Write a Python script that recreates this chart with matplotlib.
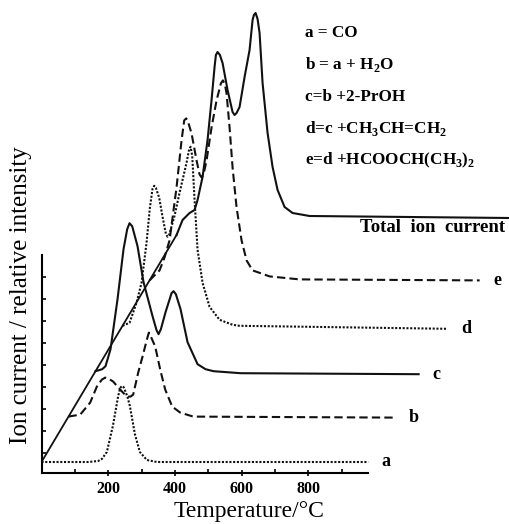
import numpy as np
import matplotlib.pyplot as plt

plt.rcParams['font.family'] = ['Liberation Serif', 'DejaVu Serif']
plt.rcParams['mathtext.fontset'] = 'custom'
plt.rcParams['mathtext.rm'] = 'Liberation Serif:bold'

# each trace: temperature (°C) and relative intensity, measured from its own start point
temp_a = [0, 140, 170, 181, 196, 214, 230, 236, 241, 246, 250, 258, 265, 280, 295, 316, 346, 980]
int_a = [0, 0, 1, 3, 10, 36, 66, 74, 76, 75, 72, 65, 56, 28, 10, 2, 0, 0]

temp_b = [0, 35, 65, 85, 100, 110, 120, 134, 155, 172, 179, 186, 194, 209, 222, 235, 241, 247,
          260, 275, 290, 311, 335, 374, 980]
int_b = [0, 2, 14, 30, 37, 39, 38, 35, 27, 21, 20, 20, 22, 44, 60, 77, 84, 80,
         70, 47, 27, 10, 4, 0, -1]

temp_c = [0, 20, 30, 45, 66, 84, 95, 102, 110, 126, 144, 171, 183, 189, 196, 210, 228, 234, 241,
          255, 276, 306, 330, 354, 435, 969]
int_c = [0, 2, 5, 22, 72, 122, 142, 148, 145, 125, 89, 55, 41, 37, 42, 59, 78, 80, 77,
         62, 29, 7, 2, 0, -2, -3]

temp_d = [0, 21, 42, 57, 72, 82, 90, 95, 100, 110, 120, 130, 135, 140, 156, 171, 192, 200, 204,
          209, 216, 225, 240, 261, 291, 330, 351, 975]
int_d = [0, 3, 23, 43, 83, 118, 137, 140, 138, 128, 109, 92, 89, 91, 110, 133, 163, 177, 179,
         170, 126, 76, 43, 19, 6, 1, 0, -3]

temp_e = [0, 30, 45, 60, 81, 96, 104, 110, 116, 126, 141, 150, 156, 162, 171, 186, 201, 214, 220,
          226, 231, 240, 249, 261, 276, 291, 309, 360, 450, 990]
int_e = [0, 10, 23, 40, 93, 140, 160, 162, 158, 147, 120, 106, 103, 106, 120, 153, 180, 197, 200,
         196, 187, 153, 113, 73, 40, 20, 10, 4, 1, 0]

temp_tot = [0, 18, 39, 54, 63, 78, 93, 105, 114, 118, 123, 130, 138, 153, 168, 174, 180, 189, 204,
            219, 228, 232, 237, 243, 249, 258, 273, 288, 303, 324, 348, 399, 999]
int_tot = [0, 15, 22, 25, 35, 58, 95, 135, 168, 180, 183, 180, 172, 145, 123, 120, 122, 128, 158,
           185, 215, 220, 222, 216, 202, 152, 102, 68, 45, 28, 22, 19, 17]

names = ['a', 'b', 'c', 'd', 'e', '']
legend_lines = ['a = CO', 'b = a + H$_2$O', 'c=b +2-PrOH',
                'd=c +CH$_3$CH=CH$_2$', 'e=d +HCOOCH(CH$_3$)$_2$']

traces = [(temp_a, int_a), (temp_b, int_b), (temp_c, int_c),
          (temp_d, int_d), (temp_e, int_e), (temp_tot, int_tot)]
styles = [(0, (1, 0.8)), (0, (4, 2)), '-', (0, (1, 0.8)), (0, (4, 2)), '-']

# each trace is shifted right and up from the previous one
shift_t = 81
shift_i = 45.4
base_i = 11

fig = plt.figure(figsize=(5.10, 5.24), dpi=100)
ax = fig.add_axes([41.5 / 510, 51 / 524, 1 - 41.5 / 510, 473 / 524])
ax.set_xlim(0, 1405)
ax.set_ylim(0, 473)

for i, ((t, y), ls) in enumerate(zip(traces, styles)):
    x = np.array(t) + i * shift_t
    yy = np.array(y) + base_i + i * shift_i
    ax.plot(x, yy, color='#111111', lw=1.5, linestyle=ls, solid_joinstyle='round')
    if names[i]:
        ax.text(x[-1] + 40, yy[-1], names[i], fontsize=13, fontweight='bold',
                ha='left', va='center')

# diagonal joining the start of each trace
n = len(traces) - 1
ax.plot([0, n * shift_t], [base_i, base_i + n * shift_i], color='#111111', lw=1.3)

for k, s in enumerate(legend_lines):
    ax.text(790, 440 - k * 31.8, s, fontsize=12.3, fontweight='bold', ha='left', va='center')
ax.text(955, 246, 'Total  ion  current', fontsize=13.5, fontweight='bold', ha='left', va='center')

ax.spines['top'].set_visible(False)
ax.spines['right'].set_visible(False)
ax.spines['left'].set_bounds(0, 218)
ax.spines['bottom'].set_bounds(0, 980)
ax.spines['left'].set_linewidth(1.5)
ax.spines['bottom'].set_linewidth(1.5)

ax.set_xticks([200, 400, 600, 800])
ax.set_xticklabels(['200', '400', '600', '800'], fontweight='bold', fontsize=11.5)
ax.set_xticks([100, 300, 500, 700, 900], minor=True)
ax.tick_params(axis='x', which='major', direction='inout', length=5, width=1.2, pad=3)
ax.tick_params(axis='x', which='minor', direction='in', length=3, width=1.2)
ax.set_yticks(np.arange(20, 200, 22))
ax.tick_params(axis='y', direction='in', length=3, width=1.2, labelleft=False)

ax.text(622, -38, 'Temperature/°C', fontsize=17, ha='center', va='center')
ax.text(-60, 178, 'Ion current / relative intensity', fontsize=18, rotation=90,
        ha='center', va='center')

fig.savefig('out.png', dpi=100)
